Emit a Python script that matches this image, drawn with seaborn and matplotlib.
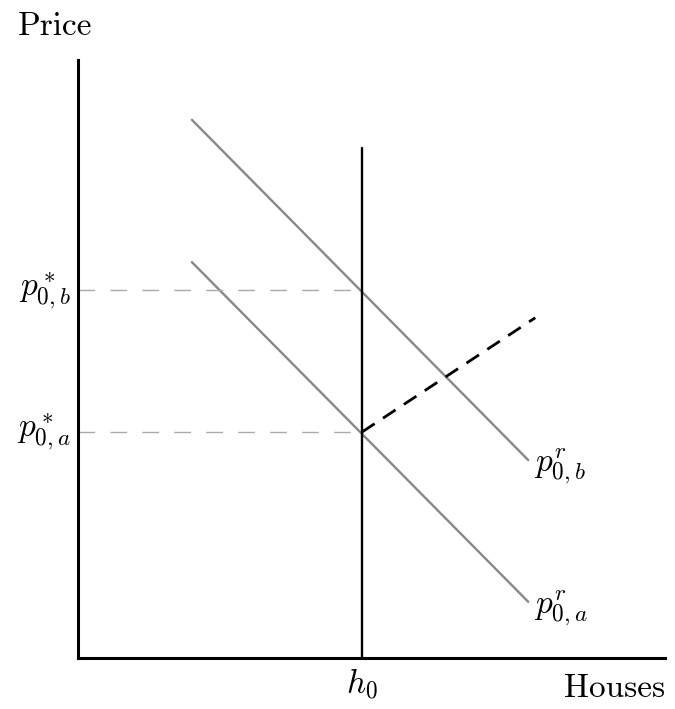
import numpy as np
import pandas as pd
import matplotlib
matplotlib.use('Agg')
import matplotlib.pyplot as plt
import seaborn as sns

# valeurs (unités arbitraires, axes 0..10)
h0 = 4.84
h0_top = 8.53
demand_x = [1.94, 7.67]
demand_b = [9.0, 3.31]
demand_a = [6.62, 0.94]
p_star_b = 6.15
p_star_a = 3.78
supply_x = [4.84, 7.79]
supply_y = [3.78, 5.69]

sns.set_style('white')
plt.rcParams['font.family'] = ['cmr10', 'DejaVu Serif']
plt.rcParams['mathtext.fontset'] = 'cm'
plt.rcParams['text.color'] = 'black'

fig = plt.figure(figsize=(6.75, 7.09), dpi=100)
ax = fig.add_axes([78 / 675, 51 / 709, 587 / 675, 598 / 709])
ax.set_xlim(0, 10)
ax.set_ylim(0, 10)

df_b = pd.DataFrame({'x': demand_x, 'y': demand_b})
df_a = pd.DataFrame({'x': demand_x, 'y': demand_a})
sns.lineplot(data=df_b, x='x', y='y', ax=ax, color='#888888', lw=1.7)
sns.lineplot(data=df_a, x='x', y='y', ax=ax, color='#888888', lw=1.7)

# offre verticale
ax.plot([h0, h0], [0, h0_top], color='black', lw=1.7)

# prix d'équilibre
for p in [p_star_b, p_star_a]:
    ax.plot([0, h0], [p, p], color='#aaaaaa', lw=1.0, dashes=(12, 11))

# courbe en pointillés
sns.lineplot(x=supply_x, y=supply_y, ax=ax, color='black', lw=2.0,
             dashes=False).lines[-1].set_dashes((5.4, 3.6))

fs = 24
ax.text(-0.13, p_star_b, r'$p^*_{0,b}$', ha='right', va='center', fontsize=fs)
ax.text(-0.13, p_star_a, r'$p^*_{0,a}$', ha='right', va='center', fontsize=fs)
ax.text(demand_x[1] + 0.1, demand_b[1] - 0.1, r'$p^r_{0,b}$', ha='left', va='center', fontsize=fs)
ax.text(demand_x[1] + 0.1, demand_a[1] - 0.1, r'$p^r_{0,a}$', ha='left', va='center', fontsize=fs)
ax.text(h0, -0.58, r'$h_0$', ha='center', va='baseline', fontsize=fs)
ax.text(10, -0.66, 'Houses', ha='right', va='baseline', fontsize=fs)
ax.text(-1.02, 10.42, 'Price', ha='left', va='baseline', fontsize=fs)

ax.set_xticks([])
ax.set_yticks([])
ax.set_xlabel('')
ax.set_ylabel('')
for s in ['top', 'right']:
    ax.spines[s].set_visible(False)
for s in ['left', 'bottom']:
    ax.spines[s].set_linewidth(2.2)
    ax.spines[s].set_color('black')

fig.savefig('out.png', dpi=100)
